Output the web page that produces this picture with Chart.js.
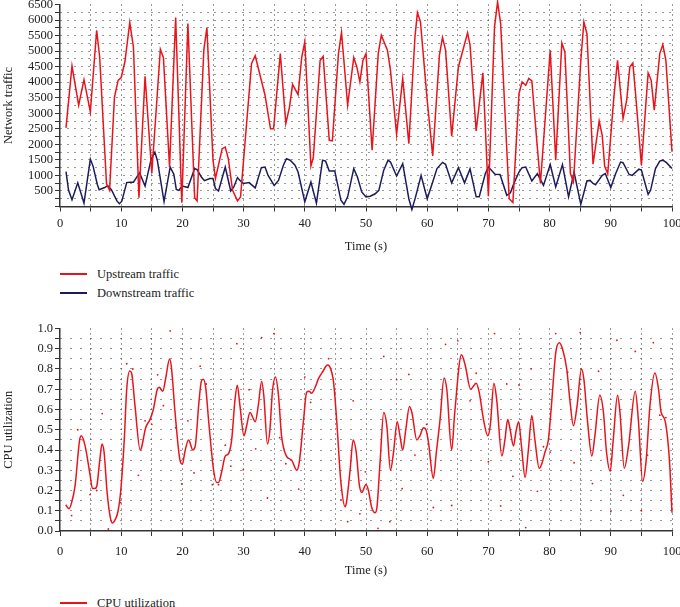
<!DOCTYPE html>
<html>
<head>
<meta charset="UTF-8">
<title>Network traffic and CPU utilization</title>
<script src="https://cdn.jsdelivr.net/npm/chart.js"></script>
<style>
    body {
        margin: 0;
        width: 680px;
        height: 607px;
        overflow: hidden;
        position: relative;
        background: #fff;
        font-family: "Liberation Serif", serif;
    }
    canvas { position: absolute; left: 0; }
    #trafficChart { top: -5px; }
    #cpuChart { top: 319px; }
    .item {
        position: absolute;
        left: 60px;
        height: 20px;
        display: flex;
        align-items: center;
        font-size: 12.5px;
        color: #222;
    }
    .item .line {
        display: inline-block;
        width: 27px;
        border-top: 2px solid;
        margin-right: 10px;
    }
</style>
</head>
<body>
<canvas id="trafficChart" width="700" height="263"></canvas>
<canvas id="cpuChart" width="700" height="263"></canvas>

<div class="item" style="top:264px"><span class="line" style="border-color:#e8141c"></span>Upstream traffic</div>
<div class="item" style="top:283px"><span class="line" style="border-color:#1c1c5c"></span>Downstream traffic</div>
<div class="item" style="top:593px"><span class="line" style="border-color:#e8141c"></span>CPU utilization</div>

<script>
// upstream traffic (red)
const upTime = [0.98, 1.96, 3.05, 3.92, 4.96, 5.99, 6.48, 7.6, 8.1, 8.9, 9.5, 10.0, 10.6, 11.4, 12.0, 12.9, 13.9, 15.0, 16.4, 16.9,
    17.9, 18.9, 19.9, 20.9, 22.0, 22.4, 23.5, 24.0, 25.0, 25.4, 26.5, 27.0, 27.5, 28.2, 29.0, 29.5, 31.3, 31.9, 33.5, 34.4,
    34.9, 36.0, 36.9, 37.5, 38.0, 38.9, 39.5, 40.0, 41.0, 41.4, 42.5, 43.0, 44.0, 44.5, 45.5, 46.0, 47.0, 48.0, 48.5, 49.0,
    49.5, 50.0, 51.0, 52.0, 52.5, 53.5, 54.0, 55.0, 56.0, 57.0, 58.0, 58.4, 58.9, 60.0, 60.9, 62.0, 62.5, 63.0, 64.0, 65.1,
    66.6, 67.0, 68.0, 69.1, 70.0, 71.0, 71.5, 72.0, 73.4, 74.0, 75.0, 75.5, 76.1, 76.6, 77.1, 77.9, 78.5, 79.5, 80.1, 81.0,
    82.0, 82.5, 83.4, 83.9, 85.1, 85.6, 86.1, 87.1, 88.1, 88.6, 89.0, 89.5, 90.5, 91.1, 92.0, 92.6, 93.1, 93.6, 94.0, 95.0,
    96.1, 96.6, 97.1, 98.0, 98.5, 99.0, 100.0];
const upValue = [2530, 4520, 3260, 4080, 3040, 5670, 4810, 730, 520, 3520, 4060, 4150, 4650, 5920, 5130, 285, 4190, 1060, 5060, 4790,
    1270, 6080, 125, 5890, 285, 180, 5030, 5760, 1490, 900, 1860, 1910, 1540, 520, 180, 310, 4600, 4850, 3580, 2500,
    2500, 4920, 2670, 3200, 3930, 3600, 4810, 5300, 1300, 1590, 4700, 4830, 2130, 2110, 4920, 5600, 3260, 4790, 4490, 4010,
    4700, 4920, 1810, 4920, 5510, 5030, 4380, 2320, 4120, 2020, 5460, 6240, 5940, 3420, 1630, 4870, 5440, 5030, 2260, 4490,
    5590, 5190, 2430, 4300, 330, 5780, 6580, 5890, 250, 130, 3630, 4010, 3900, 4120, 4040, 2130, 740, 3420, 5030, 1490,
    5260, 4970, 1060, 790, 4700, 5940, 5560, 1360, 2750, 2290, 1290, 1060, 3520, 4700, 2830, 3420, 4490, 4620, 3740, 1330,
    4300, 4060, 3100, 4920, 5210, 4700, 1760];

// downstream traffic (navy)
const downTime = [0.98, 1.4, 1.96, 2.9, 3.92, 4.96, 5.4, 6.1, 6.4, 7.3, 7.8, 8.4, 9.3, 9.7, 10.1, 10.9, 11.4, 12.0, 13.0, 13.9,
    14.9, 15.5, 15.9, 17.0, 18.0, 18.6, 19.0, 19.4, 20.0, 20.9, 22.0, 22.4, 23.1, 23.6, 24.5, 25.0, 25.4, 25.9, 27.0, 27.9,
    28.4, 29.0, 29.4, 30.0, 30.9, 31.9, 32.9, 33.5, 34.0, 35.0, 35.7, 36.5, 37.0, 37.6, 38.4, 38.9, 40.0, 41.0, 41.9, 42.9,
    43.4, 44.0, 44.9, 45.9, 46.4, 47.0, 48.0, 48.6, 49.3, 50.0, 50.7, 51.5, 52.1, 52.9, 53.6, 54.0, 55.0, 56.0, 57.0, 57.5,
    58.1, 59.0, 60.0, 60.9, 61.6, 62.5, 63.0, 64.0, 65.1, 66.1, 67.0, 68.0, 68.5, 69.5, 70.0, 71.1, 71.9, 73.0, 73.6, 74.2,
    75.0, 75.5, 76.1, 77.1, 78.0, 79.0, 80.1, 81.0, 82.1, 83.1, 84.0, 84.5, 85.1, 86.1, 86.6, 87.1, 87.5, 88.6, 89.1, 90.0,
    90.8, 91.6, 92.0, 93.0, 93.5, 94.6, 95.0, 96.1, 96.5, 97.3, 98.0, 98.5, 99.1, 100.0];
const downValue = [1120, 520, 220, 760, 110, 1520, 1300, 710, 540, 610, 670, 540, 180, 90, 170, 770, 780, 780, 1080, 660,
    1530, 1750, 1490, 160, 1270, 1040, 550, 520, 660, 610, 1220, 1190, 950, 830, 900, 900, 580, 500, 1270, 500,
    630, 930, 840, 740, 770, 600, 1250, 1270, 1000, 680, 840, 1330, 1540, 1490, 1330, 1110, 150, 790, 110, 1490,
    1460, 1140, 1140, 200, 70, 310, 1220, 950, 470, 310, 330, 410, 520, 1170, 1490, 1430, 980, 1380, 250, -100,
    310, 1000, 250, 790, 1220, 1420, 1360, 760, 1250, 760, 1210, 310, 310, 1060, 1270, 1040, 1030, 360, 440, 760,
    1110, 1250, 1270, 820, 1060, 680, 1350, 630, 1350, 310, 1110, 630, 70, 820, 840, 740, 700, 1000, 1060, 610,
    1060, 1430, 1410, 1030, 1000, 1200, 1170, 390, 520, 1220, 1460, 1490, 1410, 1220];

// CPU utilization, smoothed curve
const cpuTime = [0.93, 1.47, 1.9, 2.45, 3.27, 3.5, 4.1, 4.9, 5.3, 5.7, 6.0, 6.5, 6.86, 7.2, 7.7, 8.2, 8.55, 9.0, 9.5, 9.9,
    10.5, 10.9, 11.4, 11.7, 12.25, 13.1, 13.3, 14.0, 14.7, 15.25, 15.9, 16.2, 16.8, 17.3, 17.9, 18.2, 18.8, 19.6, 20.0, 20.4,
    21.0, 21.2, 21.7, 22.1, 22.7, 23.1, 23.4, 23.8, 24.3, 25.1, 25.6, 25.9, 26.4, 27.0, 27.5, 28.05, 28.6, 28.97, 29.4, 30.06,
    30.5, 31.04, 31.9, 32.4, 32.95, 33.3, 33.9, 34.3, 34.7, 35.2, 35.7, 36.2, 37.0, 37.85, 38.7, 39.1, 39.8, 40.3, 40.7, 41.1,
    41.7, 42.2, 43.0, 43.7, 44.1, 44.7, 45.2, 45.9, 46.6, 46.8, 47.4, 47.9, 48.4, 48.9, 49.3, 50.0, 50.4, 50.9, 51.5, 51.8,
    52.3, 52.9, 53.4, 54.0, 54.5, 55.1, 55.55, 56.0, 56.5, 57.1, 57.5, 58.3, 58.8, 59.4, 59.8, 60.2, 61.0, 61.5, 62.1, 62.75,
    63.2, 64.0, 64.5, 65.6, 66.2, 67.1, 68.0, 68.5, 69.2, 69.9, 70.3, 70.9, 71.35, 72.2, 72.7, 73.15, 73.5, 74.1, 74.5, 74.95,
    75.4, 76.0, 76.5, 77.1, 77.6, 78.3, 78.7, 79.25, 79.8, 80.3, 81.0, 81.6, 82.1, 82.8, 83.3, 83.9, 84.5, 85.2, 85.6, 86.2,
    86.9, 87.4, 88.2, 88.8, 89.3, 89.9, 90.4, 91.1, 91.5, 92.2, 92.9, 94.0, 94.5, 95.2, 95.75, 96.4, 97.2, 97.8, 98.2, 98.9,
    99.6, 100.0];
const cpuValue = [0.13, 0.11, 0.14, 0.22, 0.46, 0.47, 0.42, 0.28, 0.21, 0.21, 0.22, 0.35, 0.43, 0.39, 0.19, 0.07, 0.04, 0.055, 0.10, 0.19,
    0.45, 0.70, 0.79, 0.78, 0.62, 0.40, 0.41, 0.51, 0.55, 0.60, 0.70, 0.71, 0.69, 0.76, 0.85, 0.81, 0.585, 0.35, 0.33, 0.39,
    0.45, 0.44, 0.40, 0.42, 0.635, 0.74, 0.75, 0.71, 0.54, 0.30, 0.24, 0.24, 0.29, 0.37, 0.38, 0.45, 0.65, 0.72, 0.62, 0.47,
    0.52, 0.585, 0.54, 0.62, 0.74, 0.67, 0.43, 0.50, 0.685, 0.76, 0.67, 0.47, 0.37, 0.35, 0.30, 0.34, 0.55, 0.685, 0.69, 0.68,
    0.71, 0.75, 0.79, 0.82, 0.81, 0.735, 0.55, 0.24, 0.12, 0.14, 0.30, 0.45, 0.39, 0.23, 0.19, 0.23, 0.20, 0.12, 0.09, 0.12,
    0.34, 0.585, 0.52, 0.30, 0.39, 0.54, 0.47, 0.40, 0.50, 0.615, 0.585, 0.45, 0.47, 0.51, 0.50, 0.44, 0.26, 0.39, 0.55, 0.756,
    0.70, 0.40, 0.585, 0.87, 0.82, 0.70, 0.73, 0.685, 0.55, 0.47, 0.52, 0.73, 0.65, 0.37, 0.45, 0.55, 0.51, 0.42, 0.49, 0.54,
    0.42, 0.265, 0.39, 0.57, 0.45, 0.31, 0.33, 0.39, 0.45, 0.62, 0.88, 0.93, 0.90, 0.80, 0.65, 0.52, 0.62, 0.80, 0.75, 0.54,
    0.37, 0.47, 0.67, 0.585, 0.39, 0.295, 0.45, 0.67, 0.585, 0.31, 0.42, 0.69, 0.55, 0.245, 0.34, 0.62, 0.78, 0.70, 0.59, 0.54,
    0.34, 0.09];

// CPU utilization, raw samples (small red dots)
const rawTime = [1.9, 2.9, 3.8, 4.9, 6.0, 6.9, 7.9, 9.9, 10.9, 11.9, 12.8, 13.9, 15.0, 15.95, 16.9, 18.0, 18.9, 19.9, 20.9, 21.9,
    22.9, 23.9, 24.9, 25.9, 27.0, 27.9, 28.9, 29.95, 30.9, 31.97, 32.95, 33.9, 34.96, 35.9, 36.9, 39.0, 40.0, 40.95, 43.9, 44.9,
    45.9, 47.0, 47.9, 49.0, 49.9, 51.96, 52.9, 53.9, 55.0, 55.9, 57.0, 58.0, 59.9, 61.0, 63.0, 64.0, 65.0, 67.0, 68.0, 70.0,
    71.0, 72.0, 73.0, 74.0, 75.0, 76.1, 77.0, 78.0, 79.0, 80.1, 81.0, 82.95, 84.0, 85.0, 87.0, 88.0, 90.0, 91.0, 92.05, 94.0,
    95.0, 96.0, 96.95, 98.0, 99.0];
const rawValue = [0.076, 0.50, 0.45, 0.18, 0.20, 0.58, 0.01, 0.14, 0.826, 0.80, 0.275, 0.544, 0.527, 0.771, 0.619, 0.988, 0.51, 0.232, 0.544, 0.287,
    0.814, 0.726, 0.229, 0.229, 0.424, 0.32, 0.925, 0.303, 0.698, 0.406, 0.955, 0.163, 0.975, 0.461, 0.332, 0.207, 0.76, 0.635, 0.851, 0.685,
    0.154, 0.046, 0.643, 0.085, 0.292, 0.013, 0.862, 0.046, 0.748, 0.209, 0.773, 0.375, 0.527, 0.116, 0.922, 0.126, 0.939, 0.643, 0.779, 0.342,
    0.975, 0.124, 0.726, 0.27, 0.721, 0.017, 0.801, 0.196, 0.416, 0.39, 0.975, 0.784, 0.337, 0.98, 0.234, 0.789, 0.096, 0.942, 0.176, 0.887,
    0.10, 0.375, 0.93, 0.572, 0.56];

const xTicks = [0, 10, 20, 30, 40, 50, 60, 70, 80, 90, 100];

const red = '#e8141c';
const navy = '#1c1c5c';
const ink = '#333';
const font = { family: '"Liberation Serif", serif', size: 12.5 };

function points(xs, ys) {
    return xs.map((x, i) => ({ x: x, y: ys[i] }));
}

function xScale(tickPad, titlePadTop, boxHeight) {
    const scale = {
        type: 'linear',
        min: 0,
        max: 100,
        ticks: {
            stepSize: 5,
            padding: tickPad,
            color: '#222',
            font: font,
            maxRotation: 0,
            autoSkip: false,
            callback: v => xTicks.includes(v) ? String(v) : ''
        },
        grid: {
            color: ctx => (ctx.tick && ctx.tick.value === 0) ? 'rgba(0,0,0,0)' : ink,
            tickColor: ink,
            tickLength: 5,
            lineWidth: 1
        },
        border: { color: ink, width: 1.5, dash: [1, 4] },
        title: {
            display: true,
            text: 'Time (s)',
            color: '#222',
            font: font,
            padding: { top: titlePadTop, bottom: 4 }
        }
    };
    if (boxHeight) scale.afterFit = s => { s.height = boxHeight; };
    return scale;
}

function yScale(max, step, labelStep, title, fmt, hideZeroLabel, dotGap) {
    return {
        min: 0,
        max: max,
        afterFit: s => { s.width = 60; },
        ticks: {
            stepSize: step,
            padding: 2,
            color: '#222',
            font: font,
            autoSkip: false,
            callback: v => {
                const k = Math.round(v / step);
                const every = Math.round(labelStep / step);
                if (k % every !== 0) return '';
                if (hideZeroLabel && k === 0) return '';
                return fmt(v);
            }
        },
        grid: {
            color: ctx => {
                if (!ctx.tick) return ink;
                const k = Math.round(ctx.tick.value / step);
                return (k === 0 || k === Math.round(max / step)) ? 'rgba(0,0,0,0)' : ink;
            },
            tickColor: ink,
            tickLength: 5,
            lineWidth: 1
        },
        border: { color: ink, width: 1.5, dash: [1, dotGap] },
        title: {
            display: true,
            text: title,
            color: '#222',
            font: font,
            padding: { top: 1, bottom: 0 }
        }
    };
}

new Chart(document.getElementById('trafficChart'), {
    type: 'line',
    data: {
        datasets: [
            {
                label: 'Upstream traffic',
                data: points(upTime, upValue),
                borderColor: red,
                borderWidth: 1.5,
                pointRadius: 0,
                tension: 0,
                clip: false
            },
            {
                label: 'Downstream traffic',
                data: points(downTime, downValue),
                borderColor: navy,
                borderWidth: 1.5,
                pointRadius: 0,
                tension: 0,
                clip: false
            }
        ]
    },
    options: {
        responsive: false,
        animation: false,
        layout: { padding: { left: 0, right: 28, top: 0, bottom: 0 } },
        plugins: { legend: { display: false }, tooltip: { enabled: false } },
        scales: {
            x: xScale(5, 2.5),
            y: yScale(6500, 250, 500, 'Network traffic', v => String(v), true, 6)
        }
    }
});

new Chart(document.getElementById('cpuChart'), {
    type: 'line',
    data: {
        datasets: [
            {
                label: 'CPU utilization',
                data: points(cpuTime, cpuValue),
                borderColor: red,
                borderWidth: 1.5,
                pointRadius: 0,
                cubicInterpolationMode: 'monotone',
                clip: false
            },
            {
                label: 'CPU samples',
                data: points(rawTime, rawValue),
                showLine: false,
                pointRadius: 0.9,
                pointBorderWidth: 0,
                pointBackgroundColor: red,
                clip: false
            }
        ]
    },
    options: {
        responsive: false,
        animation: false,
        layout: { padding: { left: 0, right: 28, top: 0, bottom: 0 } },
        plugins: { legend: { display: false }, tooltip: { enabled: false } },
        scales: {
            x: xScale(8, 0, 51),
            y: yScale(1, 0.05, 0.1, 'CPU utilization', v => v.toFixed(1), false, 9)
        }
    }
});
</script>
</body>
</html>
